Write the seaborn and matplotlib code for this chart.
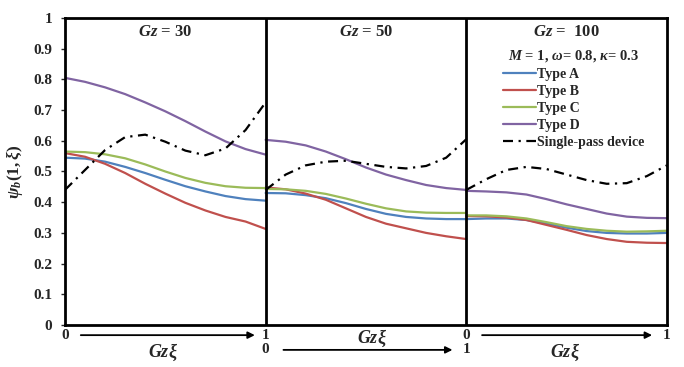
import matplotlib
matplotlib.use('Agg')
import matplotlib.pyplot as plt
import pandas as pd
import seaborn as sns

# Gz*xi positions read inside each panel
xi = [0.0, 0.1, 0.2, 0.3, 0.4, 0.5, 0.6, 0.7, 0.8, 0.9, 1.0]
panels = ['Gz = 30', 'Gz = 50', 'Gz =  100']
series_names = ['Type A', 'Type B', 'Type C', 'Type D', 'Single-pass device']

# Gz = 30
gz30_a = [0.545, 0.542, 0.532, 0.515, 0.495, 0.473, 0.452, 0.435, 0.420, 0.410, 0.405]
gz30_b = [0.560, 0.548, 0.525, 0.495, 0.460, 0.428, 0.398, 0.373, 0.352, 0.337, 0.313]
gz30_c = [0.565, 0.563, 0.556, 0.543, 0.523, 0.500, 0.479, 0.463, 0.452, 0.447, 0.446]
gz30_d = [0.805, 0.792, 0.774, 0.752, 0.725, 0.696, 0.664, 0.630, 0.598, 0.573, 0.555]
gz30_s = [0.440, 0.505, 0.570, 0.612, 0.620, 0.597, 0.568, 0.553, 0.575, 0.635, 0.725]
# Gz = 50
gz50_a = [0.430, 0.429, 0.423, 0.413, 0.397, 0.378, 0.362, 0.352, 0.347, 0.345, 0.345]
gz50_b = [0.448, 0.442, 0.428, 0.408, 0.380, 0.352, 0.330, 0.315, 0.300, 0.289, 0.280]
gz50_c = [0.443, 0.442, 0.437, 0.427, 0.412, 0.395, 0.380, 0.370, 0.366, 0.365, 0.365]
gz50_d = [0.603, 0.597, 0.585, 0.565, 0.540, 0.513, 0.490, 0.472, 0.456, 0.446, 0.440]
gz50_s = [0.440, 0.490, 0.520, 0.532, 0.535, 0.525, 0.515, 0.510, 0.518, 0.545, 0.605]
# Gz = 100
gz100_a = [0.345, 0.347, 0.347, 0.342, 0.330, 0.317, 0.306, 0.300, 0.298, 0.298, 0.300]
gz100_b = [0.355, 0.354, 0.350, 0.342, 0.326, 0.310, 0.293, 0.280, 0.271, 0.268, 0.267]
gz100_c = [0.357, 0.357, 0.354, 0.347, 0.335, 0.322, 0.313, 0.307, 0.304, 0.305, 0.307]
gz100_d = [0.437, 0.435, 0.432, 0.425, 0.410, 0.393, 0.378, 0.363, 0.353, 0.349, 0.348]
gz100_s = [0.440, 0.475, 0.505, 0.515, 0.508, 0.490, 0.472, 0.460, 0.462, 0.485, 0.520]

y_ticks = [0, 0.1, 0.2, 0.3, 0.4, 0.5, 0.6, 0.7, 0.8, 0.9, 1]
y_tick_labels = ['0', '0.1', '0.2', '0.3', '0.4', '0.5', '0.6', '0.7', '0.8', '0.9', '1']

all_data = [
    [gz30_a, gz30_b, gz30_c, gz30_d, gz30_s],
    [gz50_a, gz50_b, gz50_c, gz50_d, gz50_s],
    [gz100_a, gz100_b, gz100_c, gz100_d, gz100_s],
]

rows = []
for p, panel_vals in enumerate(all_data):
    for name, vals in zip(series_names, panel_vals):
        for x, y in zip(xi, vals):
            rows.append({'x': p + x, 'y': y, 'series': name, 'panel': p})
df = pd.DataFrame(rows)

colores = {'Type A': '#4F81BD', 'Type B': '#C0504D', 'Type C': '#9BBB59',
           'Type D': '#8064A2', 'Single-pass device': 'black'}
trazos = {'Type A': '', 'Type B': '', 'Type C': '', 'Type D': '',
          'Single-pass device': (4.5, 2.5, 1, 2.5)}

sns.set_theme(style='ticks')
plt.rcParams['font.family'] = ['Liberation Serif', 'DejaVu Serif']
plt.rcParams['font.weight'] = 'bold'
plt.rcParams['mathtext.fontset'] = 'custom'
plt.rcParams['mathtext.rm'] = 'Liberation Serif:bold'
plt.rcParams['mathtext.it'] = 'Liberation Serif:italic:bold'
plt.rcParams['mathtext.bf'] = 'Liberation Serif:bold'

fig = plt.figure(figsize=(6.84, 3.67), dpi=100)
ax = fig.add_axes([0.095, 0.1144, 0.88, 0.8366])

sns.lineplot(data=df, x='x', y='y', hue='series', style='series', units='panel',
             estimator=None, palette=colores, dashes=trazos, linewidth=1.6,
             sort=False, ax=ax)

ax.set_xlim(0, 3)
ax.set_ylim(0, 1)
for xv in [1, 2]:
    ax.axvline(xv, color='black', lw=2, zorder=5)
for s in ax.spines.values():
    s.set_linewidth(2)
    s.set_color('black')

ax.set_yticks(y_ticks)
ax.set_yticklabels(y_tick_labels, fontsize=11, fontweight='bold')
ax.tick_params(axis='y', length=3, width=1, direction='out', pad=6)
ax.set_xticks([])
ax.set_xlabel('')
ax.set_ylabel(r'$\psi_b(1,\xi)$', fontsize=12.5, labelpad=6)

# panel titles
for p, titulo in enumerate(panels):
    txt = titulo.replace('Gz', r'$Gz$')
    ax.text(p + 0.5, 0.953, txt, ha='center', va='center', fontsize=12)

# bottom labels and arrows
tr = ax.get_xaxis_transform()
bottom_labels = [(0, -0.033, '0'), (1, -0.033, '1'), (1, -0.081, '0'),
                 (2, -0.033, '0'), (2, -0.081, '1'), (3, -0.033, '1')]
for xv, yv, t in bottom_labels:
    ax.text(xv, yv, t, transform=tr, ha='center', va='center', fontsize=11)
flechas = [(0.065, 0.96, -0.033), (1.075, 1.945, -0.081), (2.065, 2.94, -0.033)]
for x0, x1, yv in flechas:
    ax.annotate('', xy=(x1, yv), xytext=(x0, yv), xycoords=tr, textcoords=tr,
                arrowprops=dict(arrowstyle='-|>', color='black', lw=1.3,
                                mutation_scale=10), annotation_clip=False)
for xv, yv in [(0.49, -0.09), (1.53, -0.044), (2.49, -0.09)]:
    ax.text(xv, yv, r'$Gz\xi$', transform=tr, ha='center', va='center', fontsize=13)

handles, labels = ax.get_legend_handles_labels()
leg = ax.legend(handles, labels, loc='upper left', bbox_to_anchor=(0.718, 0.92),
                frameon=False, fontsize=10, handlelength=2.4, handletextpad=0.1,
                labelspacing=0.28, borderaxespad=0,
                title=r'$M$ = 1, $\omega$= 0.8, $\kappa$= 0.3',
                title_fontproperties={'size': 10.5, 'weight': 'bold'})
leg._legend_box.align = 'center'

fig.savefig('out.png', dpi=100)
